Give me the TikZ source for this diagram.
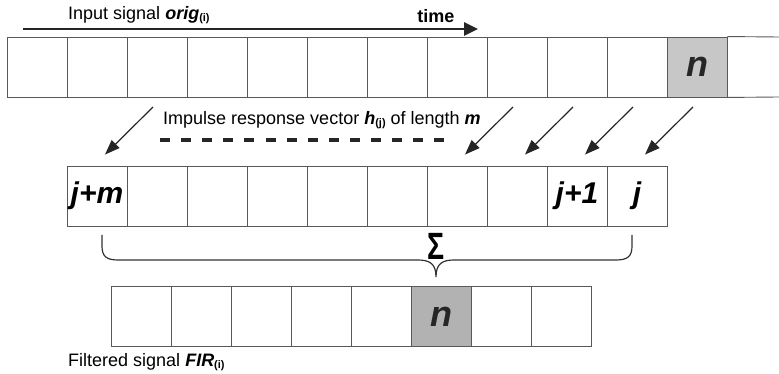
\documentclass[tikz,border=0pt]{standalone}
\usepackage{fontspec}
\setmainfont{Liberation Sans}
\usetikzlibrary{arrows.meta,calc}
\newcommand{\subtx}[1]{\raisebox{-0.25ex}{\fontsize{11}{11}\selectfont\bfseries #1}}
\begin{document}
\begin{tikzpicture}[x=1pt,y=-1pt,
  cell/.style={draw=black!65, line width=0.9pt, minimum width=60pt, minimum height=60pt, inner sep=0pt, font=\fontsize{30}{30}\selectfont\bfseries\itshape},
  shadedtop/.style={cell, fill=black!22},
  shadedbot/.style={cell, fill=black!30},
  ncell/.style={font=\fontsize{36}{36}\selectfont\bfseries\itshape, text=black!85},
  lbl/.style={font=\fontsize{18}{20}\selectfont, inner sep=0pt},
  diag/.style={line width=1.2pt, black!85, -{Triangle[length=15pt,width=11pt]}},
  timearrow/.style={line width=2.6pt, black!85, -{Triangle[length=14pt,width=13pt]}},
  brace/.style={line width=1.2pt, black!80},
  dashline/.style={line width=4pt, black!85, dash pattern=on 10pt off 11.1pt}
]
\useasboundingbox (0,0) rectangle (779,374);
% top row
\foreach \i in {1,...,11} \node[cell] (t\i) at ({-23+60*\i},67) {};
\node[shadedtop,ncell] (t12) at (697,67) {n};
\coordinate (te1) at (779,37);
\coordinate (te2) at (779,97);
\draw[draw=black!65, line width=0.9pt] (t12.north east) -- (te1);
\draw[draw=black!65, line width=0.9pt] (t12.south east) -- (te2);
% middle row
\node[cell] (m1) at (97,196) {j+m};
\foreach \i in {2,...,8} \node[cell] (m\i) at ({37+60*\i},196) {};
\node[cell] (m9) at (577,196) {j+1};
\node[cell] (m10) at (637,196) {j};
% bottom row
\foreach \i in {1,...,5} \node[cell] (b\i) at ({81+60*\i},316.5) {};
\node[shadedbot,ncell] (b6) at (441,316.5) {n};
\foreach \i in {7,8} \node[cell] (b\i) at ({81+60*\i},316.5) {};
% labels
\node[lbl, anchor=west] (in) at (68,15) {Input signal \textbf{\textit{orig}}\subtx{(i)}};
\node[lbl, anchor=center, font=\fontsize{18}{20}\selectfont\bfseries] (time) at (436,16) {time};
\coordinate (ta) at (23,29);
\coordinate (tb) at (478,29);
\draw[timearrow] (ta) -- (tb);
\node[lbl, anchor=west] (imp) at (163,120) {Impulse response vector \textbf{\textit{h}}\subtx{(j)} of length \textbf{\textit{m}}};
\coordinate (da) at (160,140);
\coordinate (db) at (444,140);
\draw[dashline] (da) -- (db);
\node[lbl, anchor=west] (fil) at (68,362) {Filtered signal \textbf{\textit{FIR}}\subtx{(i)}};
% diagonal arrows
\coordinate (s1) at (153,107);
\coordinate (s2) at (513,107);
\coordinate (s3) at (573,107);
\coordinate (s4) at (633,107);
\coordinate (s5) at (693,107);
\draw[diag] (s1) -- ($(m1.north)+(8,-11)$);
\draw[diag] (s2) -- ($(m7.north)+(8,-11)$);
\draw[diag] (s3) -- ($(m8.north)+(8,-11)$);
\draw[diag] (s4) -- ($(m9.north)+(8,-11)$);
\draw[diag] (s5) -- ($(m10.north)+(8,-11)$);
% brace
\draw[brace] (102,235) -- (102,246) .. controls (102,256) and (106,260) .. (118,260) -- (418,260) .. controls (430,260) and (436,264) .. (436,277) .. controls (436,264) and (442,260) .. (454,260) -- (616,260) .. controls (628,260) and (632,256) .. (632,246) -- (632,235);
\node[inner sep=0pt, font=\fontsize{38}{38}\selectfont\bfseries, xscale=0.75] (sig) at (436,246) {Σ};
\end{tikzpicture}
\end{document}
